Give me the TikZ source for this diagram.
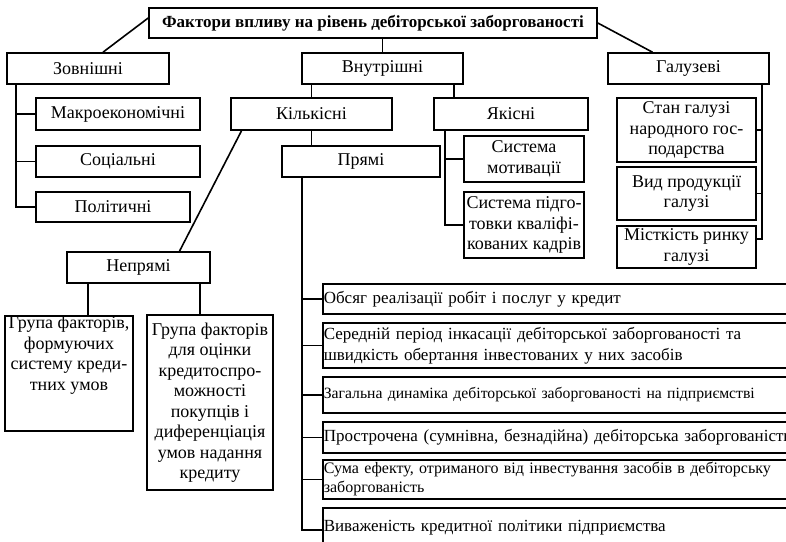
\documentclass[tikz,border=0pt]{standalone}
\usepackage{fontspec}
\setmainfont{Liberation Serif}
\usetikzlibrary{calc}
\begin{document}
\begin{tikzpicture}[x=1pt,y=-1pt,
  bx/.style={draw,line width=1.6pt,inner sep=0.5pt,align=center,
    font=\fontsize{18}{20.5}\selectfont},
  lbx/.style={draw,line width=1.6pt,inner xsep=1pt,inner ysep=1pt,align=left,
    anchor=north west,text width=470pt,minimum width=472pt,
    font=\fontsize{17}{21}\selectfont},
  ln/.style={line width=1.6pt}]
\useasboundingbox (0,0) rectangle (786,541);
\clip (0,0) rectangle (786,541);
% level 0
\node[bx,minimum width=448pt,minimum height=30pt,font=\fontsize{17}{20}\bfseries] (title) at (373,23) {Фактори впливу на рівень дебіторської заборгованості};
% level 1
\node[bx,minimum width=162pt,minimum height=31pt] (zovn) at (88,68.5) {Зовнішні};
\node[bx,minimum width=161pt,minimum height=31pt] (vnut) at (382.5,68.5) {Внутрішні};
\node[bx,minimum width=161pt,minimum height=31pt] (galuz) at (688.5,68.5) {Галузеві};
% external
\node[bx,minimum width=164pt,minimum height=32pt] (makro) at (118,114) {Макроекономічні};
\node[bx,minimum width=164pt,minimum height=31pt] (social) at (118,161.5) {Соціальні};
\node[bx,minimum width=154pt,minimum height=30pt] (polit) at (113,207) {Політичні};
% internal
\node[bx,minimum width=161pt,minimum height=32pt] (kilk) at (311.5,114) {Кількісні};
\node[bx,minimum width=154pt,minimum height=32pt] (yakis) at (511,114) {Якісні};
\node[bx,minimum width=158pt,minimum height=31pt] (pryami) at (361,161.5) {Прямі};
\node[bx,minimum width=120pt,minimum height=46pt] (motyv) at (524,159) {Система\\мотивації};
\node[bx,minimum width=120pt,minimum height=66pt] (pidgot) at (524,225) {Система підго-\\товки кваліфі-\\кованих кадрів};
% sector
\node[bx,minimum width=139pt,minimum height=64pt] (stan) at (686.5,130) {Стан галузі\\народного гос-\\подарства};
\node[bx,minimum width=139pt,minimum height=53pt] (vid) at (686.5,193.5) {Вид продукції\\галузі};
\node[bx,minimum width=139pt,minimum height=42pt] (mistk) at (686.5,247) {Місткість ринку\\галузі};
% indirect
\node[bx,minimum width=143pt,minimum height=31pt] (nepr) at (138.5,267.5) {Непрямі};
\node[bx,minimum width=128pt,minimum height=98pt,anchor=north] (grupa1) at (69,315) {Група факторів,\\формуючих\\систему креди-\\тних умов\\[1.1em]};
\node[bx,minimum width=126pt,minimum height=175pt] (grupa2) at (210,402.5) {Група факторів\\для оцінки\\кредитоспро-\\можності\\покупців і\\диференціація\\умов надання\\кредиту};
% direct
\node[lbx,minimum height=30pt] (b1) at (322,283) {Обсяг реалізації робіт і послуг у кредит};
\node[lbx,minimum height=45pt] (b2) at (322,322) {Середній період інкасації дебіторської заборгованості та\\швидкість обертання інвестованих у них засобів};
\node[lbx,minimum height=36pt,font=\fontsize{15.7}{18}\selectfont] (b3) at (322,376) {Загальна динаміка дебіторської заборгованості на підприємстві};
\node[lbx,minimum height=31pt] (b4) at (322,421) {Прострочена (сумнівна, безнадійна) дебіторська заборгованість};
\node[lbx,minimum height=39pt,font=\fontsize{16}{19}\selectfont] (b5) at (322,459) {Сума ефекту, отриманого від інвестування засобів в дебіторську\\заборгованість};
\node[lbx,minimum height=40pt] (b6) at (322,507) {Виваженість кредитної політики підприємства};
% connectors
\coordinate (zv) at (16,0);
\coordinate (yk) at (454,0);
\coordinate (yv) at (445,0);
\coordinate (gv) at (762,0);
\coordinate (pv) at (302,0);
\coordinate (n1) at (88,0);
\coordinate (n2) at (200,0);
\draw[ln] ([yshift=5pt]title.west) -- ([xshift=15pt]zovn.north);
\draw[ln] (title.east) -- ([xshift=-36pt]galuz.north);
\draw[ln] (vnut.north) -- (vnut.north |- title.south);
\draw[ln] (zv |- zovn.south) |- (polit.west);
\draw[ln] (makro.west) -- (makro.west -| zv);
\draw[ln] (social.west) -- (social.west -| zv);
\draw[ln] (kilk.north) -- (kilk.north |- vnut.south);
\draw[ln] (yk |- yakis.north) -- (yk |- vnut.south);
\draw[ln] (kilk.south) -- (kilk.south |- pryami.north);
\draw[ln] ([xshift=-70pt]kilk.south) -- ([xshift=41pt]nepr.north);
\draw[ln] (yv |- yakis.south) |- (pidgot.west);
\draw[ln] (motyv.west) -- (motyv.west -| yv);
\draw[ln] (gv |- galuz.south) |- ([yshift=8pt]mistk.east);
\draw[ln] (stan.east) -- (stan.east -| gv);
\draw[ln] (vid.east) -- (vid.east -| gv);
\draw[ln] (n1 |- nepr.south) -- (n1 |- grupa1.north);
\draw[ln] (n2 |- nepr.south) -- (n2 |- grupa2.north);
\draw[ln] (pv |- pryami.south) |- ([yshift=-2pt]b6.west);
\draw[ln] (b1.west) -- (b1.west -| pv);
\draw[ln] (b2.west) -- (b2.west -| pv);
\draw[ln] (b3.west) -- (b3.west -| pv);
\draw[ln] (b4.west) -- (b4.west -| pv);
\draw[ln] (b5.west) -- (b5.west -| pv);
\end{tikzpicture}
\end{document}
